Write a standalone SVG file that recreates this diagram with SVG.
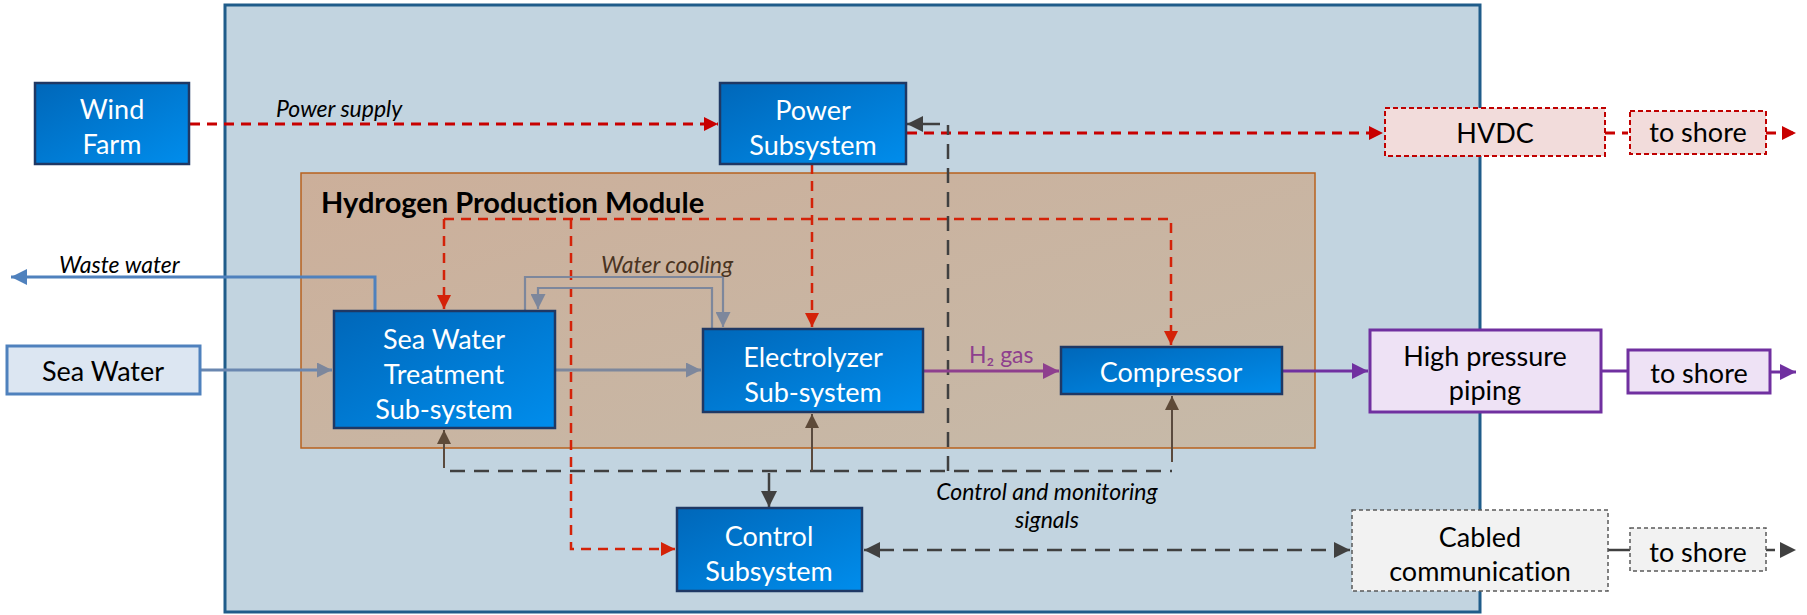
<svg xmlns="http://www.w3.org/2000/svg" width="1807" height="615" viewBox="0 0 1807 615">
<defs>
  <linearGradient id="gBlue" x1="0" y1="0" x2="1" y2="1">
    <stop offset="0" stop-color="#0067B9"/>
    <stop offset="1" stop-color="#008DEC"/>
  </linearGradient>
  <linearGradient id="gTan" x1="0" y1="0" x2="1" y2="1">
    <stop offset="0" stop-color="#CCAF9A"/>
    <stop offset="1" stop-color="#C6BAA9"/>
  </linearGradient>
  <marker id="mRed" viewBox="0 0 10 10" refX="10" refY="5" markerWidth="14" markerHeight="14" markerUnits="userSpaceOnUse" orient="auto">
    <path d="M0,0 L10,5 L0,10 Z" fill="#C80000"/>
  </marker>
  <marker id="mRed2" viewBox="0 0 10 10" refX="10" refY="5" markerWidth="14" markerHeight="14" markerUnits="userSpaceOnUse" orient="auto">
    <path d="M0,0 L10,5 L0,10 Z" fill="#D42208"/>
  </marker>
  <marker id="mGray" viewBox="0 0 10 10" refX="10" refY="5" markerWidth="16" markerHeight="16" markerUnits="userSpaceOnUse" orient="auto">
    <path d="M0,0 L10,5 L0,10 Z" fill="#404040"/>
  </marker>
  <marker id="mGrayS" viewBox="0 0 10 10" refX="0" refY="5" markerWidth="16" markerHeight="16" markerUnits="userSpaceOnUse" orient="auto">
    <path d="M10,0 L0,5 L10,10 Z" fill="#404040"/>
  </marker>
  <marker id="mBrown" viewBox="0 0 10 10" refX="10" refY="5" markerWidth="14" markerHeight="14" markerUnits="userSpaceOnUse" orient="auto">
    <path d="M0,0 L10,5 L0,10 Z" fill="#5E4A38"/>
  </marker>
  <marker id="mWater" viewBox="0 0 10 10" refX="10" refY="5" markerWidth="15" markerHeight="15" markerUnits="userSpaceOnUse" orient="auto">
    <path d="M0,0 L10,5 L0,10 Z" fill="#7D879C"/>
  </marker>
  <marker id="mBlue" viewBox="0 0 10 10" refX="10" refY="5" markerWidth="16" markerHeight="16" markerUnits="userSpaceOnUse" orient="auto">
    <path d="M0,0 L10,5 L0,10 Z" fill="#4F81BD"/>
  </marker>
  <marker id="mPurple" viewBox="0 0 10 10" refX="10" refY="5" markerWidth="16" markerHeight="16" markerUnits="userSpaceOnUse" orient="auto">
    <path d="M0,0 L10,5 L0,10 Z" fill="#7030A0"/>
  </marker>
  <marker id="mMag" viewBox="0 0 10 10" refX="10" refY="5" markerWidth="16" markerHeight="16" markerUnits="userSpaceOnUse" orient="auto">
    <path d="M0,0 L10,5 L0,10 Z" fill="#8E3F8E"/>
  </marker>
</defs>
<style>
  text { font-family: Lato, "Liberation Sans", sans-serif; font-variant-ligatures: none; }
  .node { fill: url(#gBlue); stroke: #1F3864; stroke-width: 2.5; }
  .wt { fill: #FFFFFF; font-size: 27px; text-anchor: middle; }
  .bt { fill: #000000; font-size: 27px; text-anchor: middle; }
  .lbl { font-size: 23px; font-style: italic; fill: #000; }
  .red { fill: none; stroke: #C80000; stroke-width: 3; stroke-dasharray: 10 7; }
  .red2 { fill: none; stroke: #D42208; stroke-width: 2.5; stroke-dasharray: 10 7; }
  .ctl { fill: none; stroke: #404040; stroke-width: 2.5; stroke-dasharray: 15 9; }
  .ctlS { fill: none; stroke: #404040; stroke-width: 2.5; }
  .brn { fill: none; stroke: #5A4A3E; stroke-width: 2; }
  .wat { fill: none; stroke: #7D879C; stroke-width: 2.2; }
  .wat3 { fill: none; stroke: #7D879C; stroke-width: 3; }
  .blu { fill: none; stroke: #4F81BD; stroke-width: 3; }
  .pur { fill: none; stroke: #7030A0; stroke-width: 3; }
  .mag { fill: none; stroke: #8E3F8E; stroke-width: 3; }
</style>

<!-- Platform container -->
<g id="platform">
  <rect x="225" y="5" width="1255" height="607" fill="#C2D4E0" stroke="#1F5C8A" stroke-width="3"/>
</g>

<!-- Hydrogen production module -->
<g id="hpm">
  <rect x="301" y="173" width="1014" height="275" fill="url(#gTan)" stroke="#B8621E" stroke-width="1.5"/>
  <text x="321" y="213" style="font-size:29px;font-weight:bold;fill:#000">Hydrogen Production Module</text>
</g>

<!-- Connectors -->
<g id="connectors">
  <!-- power -->
  <path class="red" d="M190,124 H718" marker-end="url(#mRed)"/>
  <path class="red" d="M907,133 H1383" marker-end="url(#mRed)"/>
  <path class="red" d="M1605,133 H1628"/>
  <path class="red" d="M1766,133 H1796" marker-end="url(#mRed)"/>
  <path class="red2" d="M812,164 V327" marker-end="url(#mRed2)"/>
  <path class="red2" d="M444,219 V309" marker-end="url(#mRed2)"/>
  <path class="red2" d="M444,219 H1171 V345" marker-end="url(#mRed2)"/>
  <path class="red2" d="M571,219 V549 H675" marker-end="url(#mRed2)"/>

  <!-- control and monitoring -->
  <path class="ctl" d="M450,471 H1172"/>
  <path class="brn" d="M444,468 V430" marker-end="url(#mBrown)"/>
  <path class="brn" d="M812,471 V414" marker-end="url(#mBrown)"/>
  <path class="brn" d="M1172,462 V396" marker-end="url(#mBrown)"/>
  <path class="ctl" d="M948,471 V125"/>
  <path class="ctlS" d="M940,124 H907" marker-end="url(#mGray)"/>
  <path class="ctlS" d="M769,473 V507" marker-end="url(#mGray)"/>
  <path class="ctl" d="M879,550 H1335"/>
  <path class="ctlS" d="M864,550 H880" marker-start="url(#mGrayS)"/>
  <path class="ctlS" d="M1334,550 H1350" marker-end="url(#mGray)"/>
  <path class="ctlS" d="M1608,550 H1630"/>
  <path class="ctlS" d="M1766,550 H1796" stroke-dasharray="9 8" marker-end="url(#mGray)"/>

  <!-- water -->
  <path class="blu" d="M375,311 V277 H11" marker-end="url(#mBlue)"/>
  <path class="wat3" d="M200,370 H332" marker-end="url(#mWater)" style="stroke:#6A87B0"/>
  <path class="wat3" d="M555,370 H701" marker-end="url(#mWater)"/>
  <path class="wat" d="M525,311 V277 H723 V327" marker-end="url(#mWater)"/>
  <path class="wat" d="M712,329 V288 H538 V309" marker-end="url(#mWater)"/>

  <!-- hydrogen -->
  <path class="mag" d="M923,371 H1059" marker-end="url(#mMag)"/>
  <path class="pur" d="M1282,371 H1368" marker-end="url(#mPurple)"/>
  <path class="pur" d="M1601,371 H1627"/>
  <path class="pur" d="M1770,372 H1796" marker-end="url(#mPurple)"/>

  <!-- labels -->
  <text class="lbl" x="276" y="117">Power supply</text>
  <text class="lbl" x="59" y="273">Waste water</text>
  <text class="lbl" x="601" y="273" style="fill:#4A3422">Water cooling</text>
  <text x="969" y="363" style="font-size:23px;fill:#8E3F8E">H₂ gas</text>
  <text class="lbl" x="1047" y="500" text-anchor="middle">Control and monitoring</text>
  <text class="lbl" x="1047" y="528" text-anchor="middle">signals</text>
</g>

<!-- Nodes -->
<g id="wind-farm">
  <rect class="node" x="35" y="83" width="154" height="81"/>
  <text class="wt" x="112" y="119">Wind</text>
  <text class="wt" x="112" y="154">Farm</text>
</g>
<g id="power-subsystem">
  <rect class="node" x="720" y="83" width="186" height="81"/>
  <text class="wt" x="813" y="120">Power</text>
  <text class="wt" x="813" y="155">Subsystem</text>
</g>
<g id="hvdc">
  <rect x="1385" y="108" width="220" height="48" fill="#F2DCDB" stroke="#C00000" stroke-width="2" stroke-dasharray="5 3"/>
  <text class="bt" x="1495" y="143">HVDC</text>
</g>
<g id="hvdc-shore">
  <rect x="1630" y="111" width="136" height="43" fill="#F2DCDB" stroke="#C00000" stroke-width="2" stroke-dasharray="5 3"/>
  <text class="bt" x="1698" y="142">to shore</text>
</g>
<g id="sea-water">
  <rect x="7" y="346" width="193" height="48" fill="#DCE6F2" stroke="#4F81BD" stroke-width="3"/>
  <text class="bt" x="103" y="381">Sea Water</text>
</g>
<g id="sea-water-treatment">
  <rect class="node" x="334" y="311" width="221" height="117"/>
  <text class="wt" x="444" y="349">Sea Water</text>
  <text class="wt" x="444" y="384">Treatment</text>
  <text class="wt" x="444" y="419">Sub-system</text>
</g>
<g id="electrolyzer">
  <rect class="node" x="703" y="329" width="220" height="83"/>
  <text class="wt" x="813" y="367">Electrolyzer</text>
  <text class="wt" x="813" y="402">Sub-system</text>
</g>
<g id="compressor">
  <rect class="node" x="1061" y="347" width="221" height="47"/>
  <text class="wt" x="1171" y="382">Compressor</text>
</g>
<g id="high-pressure-piping">
  <rect x="1370" y="330" width="231" height="82" fill="#EEE2F5" stroke="#7030A0" stroke-width="3"/>
  <text class="bt" x="1485" y="366">High pressure</text>
  <text class="bt" x="1485" y="400">piping</text>
</g>
<g id="piping-shore">
  <rect x="1628" y="350" width="142" height="43" fill="#EEE2F5" stroke="#7030A0" stroke-width="3"/>
  <text class="bt" x="1699" y="383">to shore</text>
</g>
<g id="control-subsystem">
  <rect class="node" x="677" y="508" width="185" height="83"/>
  <text class="wt" x="769" y="546">Control</text>
  <text class="wt" x="769" y="581">Subsystem</text>
</g>
<g id="cabled-communication">
  <rect x="1352" y="510" width="256" height="81" fill="#F2F2F2" stroke="#595959" stroke-width="1.5" stroke-dasharray="4 3"/>
  <text class="bt" x="1480" y="547">Cabled</text>
  <text class="bt" x="1480" y="581">communication</text>
</g>
<g id="comm-shore">
  <rect x="1630" y="528" width="136" height="43" fill="#F2F2F2" stroke="#595959" stroke-width="1.5" stroke-dasharray="4 3"/>
  <text class="bt" x="1698" y="562">to shore</text>
</g>
</svg>
